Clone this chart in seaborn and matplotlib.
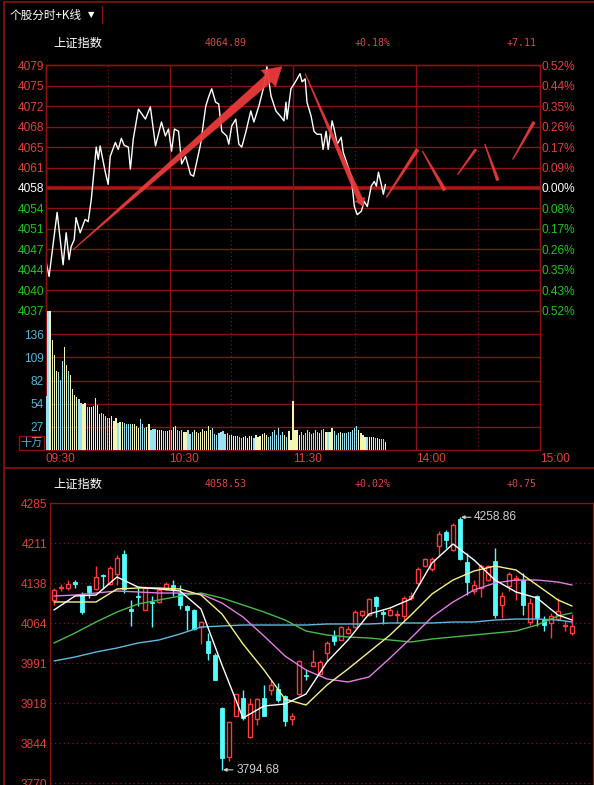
import numpy as np
import pandas as pd
import matplotlib
matplotlib.use('Agg')
import matplotlib.pyplot as plt
import seaborn as sns
from matplotlib.patches import Polygon, Rectangle
from matplotlib.lines import Line2D
from matplotlib.transforms import IdentityTransform

# ---------------- data ----------------
prev_close = 4057.78
# intraday index line (minutes after 09:30, price)
line_min = [0, 1.5, 5.4, 8.3, 9.8, 11.2, 12.2, 13.7, 14.6, 16.6, 19.0, 20.5, 22.0, 23.4, 24.4, 25.4, 26.3,
            28.8, 30.2, 31.2, 33.7, 35.1, 36.6, 38.0, 40.0, 41.0, 42.4, 44.9, 48.3, 50.7, 53.2, 56.1, 58.0,
            59.5, 61.0, 62.4, 64.4, 65.9, 67.8, 70.2, 71.7, 73.2, 75.1, 77.6, 79.0, 80.5, 82.4, 83.9, 85.4,
            87.8, 88.8, 90.2, 92.2, 93.7, 95.1, 97.1, 99.5, 101.0, 103.4, 105.9, 107.3, 109.3, 111.7, 114.1,
            115.6, 116.6, 117.1, 119.0, 120.5, 122.0, 123.4, 124.4, 125.9, 126.8, 128.8, 130.2, 131.7, 133.7,
            134.6, 136.1, 137.1, 139.0, 140.0, 141.5, 143.4, 144.4, 146.3, 148.3, 149.8, 151.2, 153.2, 154.6,
            156.1, 158.0, 159.5, 160.5, 161.5, 162.9, 163.9, 164.9]
line_price = [4045.2, 4042.6, 4053.6, 4044.6, 4050.1, 4045.5, 4047.7, 4048.9, 4052.7, 4050.1, 4052.4, 4052.0,
              4055.8, 4061.0, 4064.8, 4062.7, 4065.0, 4060.5, 4058.4, 4063.2, 4065.6, 4064.4, 4066.3, 4065.1,
              4064.8, 4061.0, 4066.2, 4071.3, 4069.6, 4071.7, 4065.0, 4069.1, 4066.7, 4067.9, 4064.1, 4067.9,
              4067.5, 4061.9, 4063.2, 4060.1, 4059.8, 4062.2, 4065.3, 4071.8, 4073.4, 4074.8, 4072.5, 4072.2,
              4067.5, 4066.7, 4065.3, 4068.4, 4069.6, 4065.3, 4064.8, 4067.4, 4071.0, 4069.1, 4071.8, 4075.3,
              4078.6, 4073.6, 4071.0, 4070.0, 4069.3, 4072.5, 4069.6, 4074.8, 4075.6, 4076.5, 4077.4, 4076.0,
              4076.5, 4072.5, 4070.1, 4067.5, 4067.0, 4067.0, 4064.4, 4067.5, 4064.4, 4069.3, 4067.9, 4065.3,
              4066.5, 4063.9, 4061.9, 4059.8, 4054.6, 4053.2, 4053.8, 4055.5, 4054.6, 4058.1, 4058.9, 4058.1,
              4060.5, 4058.4, 4056.7, 4058.4]
# per-minute volume (十万)
volume = [63, 163, 163, 129, 111, 93, 91, 82, 105, 121, 100, 93, 88, 72, 64, 62, 60, 55, 54, 55, 50, 51, 50, 52,
          61, 53, 42, 43, 42, 40, 37, 38, 40, 34, 38, 32, 33, 33, 32, 31, 31, 30, 30, 31, 28, 26, 36, 31, 26, 27,
          30, 24, 25, 25, 24, 23, 23, 22, 22, 22, 23, 23, 27, 28, 23, 22, 23, 21, 21, 23, 19, 21, 23, 21, 20, 21,
          25, 22, 22, 28, 23, 26, 19, 18, 20, 21, 22, 19, 20, 18, 18, 17, 16, 17, 15, 14, 15, 16, 14, 17, 16, 14,
          18, 15, 17, 19, 20, 18, 15, 16, 21, 24, 18, 26, 18, 21, 18, 15, 22, 12, 57, 24, 23,
          18, 21, 18, 20, 24, 21, 19, 20, 23, 21, 20, 23, 25, 21, 21, 21, 26, 22, 18, 20, 21, 20, 20, 20, 21, 21,
          23, 26, 28, 24, 20, 18, 15, 15, 15, 15, 15, 14, 14, 13, 13, 13, 9]
time_ticks = [0, 60, 120, 180, 240]
time_labels = ['09:30', '10:30', '11:30', '14:00', '15:00']
price_labels = ['4037', '4040', '4044', '4047', '4051', '4054', '4058', '4061', '4065', '4068', '4072', '4075', '4079']
pct_labels = ['0.52%', '0.43%', '0.35%', '0.26%', '0.17%', '0.08%', '0.00%', '0.09%', '0.17%', '0.26%', '0.35%', '0.44%', '0.52%']
vol_ticks = [27.2, 54.4, 81.6, 108.8, 136.0]
vol_labels = ['27', '54', '82', '109', '136']

# daily K-line
k_open = [4106.2, 4128.2, 4128.2, 4139.2, 4118.4, 4131.9, 4127.0, 4152.7, 4136.8, 4155.2, 4191.9, 4090.2, 4114.7,
          4089.0, 4103.7, 4102.5, 4127.0, 4134.3, 4119.6, 4095.1, 4089.0, 4057.2, 4030.8, 4006.3, 3907.7, 3818.3,
          3894.2, 3926.7, 3855.0, 3888.1, 3926.7, 3942.0, 3943.2, 3929.8, 3888.1, 3934.7, 3969.6, 3986.1, 3971.4,
          4009.4, 4040.0, 4032.7, 4046.1, 4057.2, 4079.8, 4079.2, 4112.3, 4084.1, 4079.2, 4079.2, 4076.8, 4110.4,
          4138.0, 4169.9, 4163.7, 4206.6, 4232.3, 4198.0, 4255.0, 4176.0, 4122.7, 4128.8, 4144.1, 4177.8, 4098.2,
          4131.9, 4142.9, 4144.1, 4065.7, 4113.5, 4069.4, 4064.5, 4071.9, 4058.4, 4046.1]
k_high = [4128.8, 4136.8, 4144.1, 4144.1, 4122.1, 4134.9, 4168.6, 4155.2, 4168.6, 4190.1, 4199.3, 4107.4, 4128.8,
          4131.9, 4113.5, 4128.8, 4139.2, 4144.1, 4134.9, 4098.2, 4090.2, 4067.6, 4046.1, 4009.4, 3910.2, 3883.8,
          3934.7, 3940.8, 3926.7, 3926.7, 3951.2, 3959.2, 3954.3, 3932.8, 3899.1, 3997.1, 3980.6, 4014.3, 3997.1,
          4030.8, 4052.3, 4058.4, 4058.4, 4089.0, 4089.0, 4110.4, 4114.7, 4089.0, 4091.5, 4087.8, 4113.5, 4122.1,
          4166.8, 4183.9, 4185.8, 4232.9, 4234.8, 4248.3, 4258.86, 4193.1, 4144.1, 4173.5, 4171.7, 4202.3, 4120.9,
          4157.6, 4153.3, 4156.4, 4110.4, 4116.6, 4076.8, 4082.9, 4110.4, 4067.6, 4081.7]
k_low = [4098.2, 4122.7, 4125.8, 4128.2, 4081.7, 4110.4, 4125.8, 4128.8, 4134.9, 4134.9, 4119.6, 4058.4, 4095.1,
         4087.8, 4057.2, 4101.3, 4125.8, 4113.5, 4090.2, 4051.0, 4052.3, 4026.5, 3997.1, 3959.2, 3794.68, 3810.3,
         3893.0, 3886.9, 3853.2, 3877.7, 3893.0, 3932.8, 3920.0, 3874.6, 3877.7, 3932.8, 3960.4, 3984.9, 3969.6,
         3994.1, 4024.7, 4032.7, 4044.9, 4055.3, 4075.5, 4076.8, 4075.5, 4063.3, 4078.0, 4064.5, 4067.6, 4106.2,
         4134.9, 4167.4, 4159.4, 4188.2, 4202.3, 4196.2, 4180.9, 4116.6, 4118.4, 4112.3, 4141.1, 4073.7, 4073.7,
         4122.7, 4107.4, 4079.8, 4061.4, 4058.4, 4049.2, 4037.0, 4067.6, 4049.2, 4043.1]
k_close = [4124.5, 4130.6, 4135.5, 4136.8, 4084.1, 4122.1, 4149.0, 4150.3, 4165.6, 4183.9, 4127.0, 4086.5, 4112.3,
           4128.8, 4101.3, 4125.8, 4136.8, 4125.8, 4098.2, 4087.8, 4053.5, 4065.7, 4009.4, 3960.4, 3815.8, 3882.6,
           3933.4, 3890.5, 3916.3, 3924.9, 3894.2, 3951.2, 3922.4, 3883.8, 3893.0, 3994.1, 3966.5, 3992.2, 3992.2,
           4027.8, 4030.8, 4057.2, 4053.5, 4084.1, 4085.9, 4108.6, 4096.4, 4081.7, 4089.0, 4081.7, 4110.4, 4114.7,
           4163.7, 4182.1, 4182.1, 4228.7, 4217.6, 4245.2, 4182.1, 4139.2, 4134.9, 4169.9, 4168.6, 4079.8, 4114.7,
           4155.2, 4147.2, 4098.2, 4101.3, 4073.7, 4061.4, 4076.8, 4085.9, 4061.4, 4058.5]
ma_idx = [0, 3, 6, 9, 12, 15, 18, 21, 24, 27, 30, 33, 36, 39, 42, 45, 48, 51, 54, 57, 60, 63, 66, 69, 72, 74]
ma5 = [4088.4, 4114.1, 4115.9, 4149.0, 4130.6, 4127.0, 4123.3, 4090.2, 3987.3, 3889.9, 3912.0, 3915.7, 3934.0,
       3992.8, 4033.3, 4081.0, 4092.1, 4108.6, 4174.7, 4209.7, 4180.3, 4143.5, 4121.5, 4110.4, 4079.2, 4070.0]
ma10 = [4103.1, 4103.1, 4103.1, 4127.0, 4128.8, 4128.8, 4127.0, 4115.9, 4081.0, 4025.9, 3978.1, 3924.8, 3913.8,
        3950.6, 3980.0, 4011.2, 4042.4, 4079.2, 4117.8, 4143.5, 4160.0, 4169.2, 4161.9, 4134.3, 4106.8, 4095.7]
ma20 = [4114.1, 4115.9, 4119.6, 4123.3, 4121.5, 4119.6, 4119.6, 4117.8, 4101.2, 4075.5, 4040.6, 4003.9, 3978.1,
        3961.6, 3956.1, 3965.3, 4000.2, 4036.9, 4075.5, 4103.1, 4125.1, 4138.0, 4143.5, 4143.5, 4139.8, 4134.3]
ma30 = [4027.7, 4046.1, 4066.3, 4084.7, 4099.4, 4106.8, 4114.1, 4119.6, 4110.4, 4097.6, 4084.7, 4070.0, 4049.8,
        4042.4, 4038.8, 4036.9, 4033.3, 4029.6, 4035.1, 4038.8, 4042.4, 4046.1, 4049.8, 4060.8, 4077.4, 4082.9]
ma60 = [3994.7, 4002.0, 4011.2, 4018.6, 4027.7, 4033.3, 4044.3, 4057.1, 4059.0, 4060.8, 4060.8, 4060.8, 4060.8,
        4062.7, 4062.7, 4062.7, 4064.5, 4064.5, 4064.5, 4066.3, 4066.3, 4070.0, 4071.8, 4071.8, 4070.0, 4066.3]
k_ticks = [4285, 4211.5, 4138, 4064.5, 3991, 3917.5, 3844, 3770.5]
k_labels = ['4285', '4211', '4138', '4064', '3991', '3918', '3844', '3770']

# hand-drawn annotations on intraday chart (minute, price)
arrows = [(13.2, 4047.2, 114.6, 4078.6, 0.5, 9.0, 18, 22),
          (125.9, 4077.4, 154.1, 4054.6, 0.5, 5.5, 8, 10)]
strokes = [(165.4, 4056.2, 180.5, 4064.4, 1.0, 3.5),
           (182.9, 4064.1, 193.7, 4057.4, 0.8, 3.5),
           (200.0, 4060.1, 208.8, 4064.4, 0.8, 2.5),
           (213.2, 4065.3, 219.5, 4059.1, 0.8, 3.0),
           (226.8, 4062.7, 237.1, 4069.1, 0.8, 3.0)]

# ---------------- style ----------------
sns.set_theme(style='white')
plt.rcParams['font.family'] = ['Liberation Sans', 'Noto Sans CJK SC', 'DejaVu Sans']
CJK = ['Noto Sans CJK SC', 'DejaVu Sans']
GRID = '#8c1212'
RED_T = '#e2403c'
GREEN_T = '#22c522'
HDR = '#d84848'
CYAN = '#54fcfc'
KRED = '#ff3c3c'
VOLC = '#5ab4d4'
ARROW = '#ea3b3b'

W, H = 594, 785
fig = plt.figure(figsize=(W / 100, H / 100), dpi=100, facecolor='black')


def rect(x0, y0, x1, y1):
    return [x0 / W, 1 - y1 / H, (x1 - x0) / W, (y1 - y0) / H]


def ftext(x, y, s, **kw):
    fig.text(x / W, 1 - y / H, s, **kw)


def fline(x0, y0, x1, y1, **kw):
    fig.add_artist(Line2D([x0 / W, x1 / W], [1 - y0 / H, 1 - y1 / H], transform=fig.transFigure, **kw))


# frame lines
fline(4, 2, 594, 2, color=GRID, lw=1.2)
fline(4, 2, 4, 785, color=GRID, lw=1.2)
fline(102, 6, 102, 23, color=GRID, lw=1.0)
fline(4, 468, 594, 468, color=GRID, lw=1.2)
ftext(10, 15, '个股分时+K线', color='white', fontsize=8.4, family=CJK, va='center')
ftext(88, 15, '▼', color='white', fontsize=6, family=['DejaVu Sans'], va='center')

# headers
for yy, vals in [(43, ['4064.89', '+0.18%', '+7.11']), (484, ['4058.53', '+0.02%', '+0.75'])]:
    ftext(53, yy, '上证指数', color='white', fontsize=8.8, family=CJK, va='center')
    for xx, s in zip([205, 355, 507], vals):
        ftext(xx, yy, s, color=HDR, fontsize=7.2, family=['DejaVu Sans Mono'], va='center')

# ---------------- intraday price ----------------
axp = fig.add_axes(rect(46, 65, 540, 311))
axp.set_facecolor('black')
lo, hi = prev_close * (1 - 0.0052), prev_close * (1 + 0.0052)
axp.set_xlim(0, 240)
axp.set_ylim(lo - 1e-6, hi + 1e-6)
levels = prev_close * (1 + np.arange(-6, 7) * 0.0052 / 6)
for k, lv in zip(range(-6, 7), levels):
    if k == 0:
        axp.axhline(lv, color='#a81616', lw=2.6, zorder=1)
    elif abs(k) < 6:
        axp.axhline(lv, color=GRID, lw=1.0, zorder=1)
for ax_ in []:
    pass


def vgrid(ax):
    for m in [60, 120, 180]:
        ax.axvline(m, color=GRID, lw=1.0, zorder=1)
    for m in [30, 90, 150, 210]:
        ax.axvline(m, color=GRID, lw=0.8, ls=(0, (1, 2.5)), zorder=1)


vgrid(axp)
df_line = pd.DataFrame({'m': line_min, 'p': line_price})
sns.lineplot(data=df_line, x='m', y='p', ax=axp, color='white', lw=1.0, sort=False, estimator=None, zorder=3)
axp.set_xlabel('')
axp.set_ylabel('')
axp.set_xticks([])
label_cols = [GREEN_T] * 6 + ['white'] + [RED_T] * 6
axp.set_yticks(levels)
axp.set_yticklabels(price_labels, fontsize=8.6)
for t, c in zip(axp.get_yticklabels(), label_cols):
    t.set_color(c)
axp.tick_params(axis='y', length=0, pad=1.5)
axr = axp.twinx()
axr.set_ylim(axp.get_ylim())
axr.set_yticks(levels)
axr.set_yticklabels(pct_labels, fontsize=8.6)
for t, c in zip(axr.get_yticklabels(), label_cols):
    t.set_color(c)
axr.tick_params(axis='y', length=0, pad=1.0)
for a in (axp, axr):
    for s in a.spines.values():
        s.set_color(GRID)
        s.set_linewidth(1.0)
    a.spines['bottom'].set_visible(False)
    a.grid(False)


def taper(ax, m0, p0, m1, p1, w0, w1, hl=0, hw=0, color=ARROW):
    T = ax.transData
    a = np.array(T.transform((m0, p0)))
    b = np.array(T.transform((m1, p1)))
    d = b - a
    u = d / np.hypot(*d)
    n = np.array([-u[1], u[0]])
    b2 = b - u * hl
    pts = [a + n * w0 / 2, b2 + n * w1 / 2]
    if hl > 0:
        pts += [b2 + n * hw / 2, b, b2 - n * hw / 2]
    pts += [b2 - n * w1 / 2, a - n * w0 / 2]
    ax.add_patch(Polygon(pts, closed=True, transform=IdentityTransform(), facecolor=color,
                         edgecolor=color, lw=0.3, zorder=6, alpha=0.95))


for m0, p0, m1, p1, w0, w1, hl, hw in arrows:
    taper(axp, m0, p0, m1, p1, w0, w1, hl, hw)
for m0, p0, m1, p1, w0, w1 in strokes:
    taper(axp, m0, p0, m1, p1, w0, w1)

# ---------------- intraday volume ----------------
axv = fig.add_axes(rect(46, 311, 540, 450))
axv.set_facecolor('black')
axv.set_xlim(0, 240)
axv.set_ylim(0, 163.2)
for v in vol_ticks:
    axv.axhline(v, color=GRID, lw=1.0, zorder=1)
vgrid(axv)
vi = np.arange(len(volume))
pm = np.interp(vi, line_min, line_price)
prev = np.concatenate([[prev_close], pm[:-1]])
vcols = ['#f4f4b4' if a >= b else '#9ae2f2' for a, b in zip(pm, prev)]
axv.bar(vi, volume, width=0.6, color=vcols, lw=0, zorder=3)
axv.set_yticks(vol_ticks)
axv.set_yticklabels(vol_labels, fontsize=8.6, color=VOLC)
axv.tick_params(axis='y', length=0, pad=1.5)
axv.set_xticks(time_ticks)
axv.set_xticklabels(time_labels, fontsize=8.6, color=RED_T, ha='left')
axv.tick_params(axis='x', length=0, pad=2.5)
for s in axv.spines.values():
    s.set_color(GRID)
    s.set_linewidth(1.0)
axv.grid(False)
fig.add_artist(Rectangle((19 / W, 1 - 450 / H), 25 / W, 14 / H, transform=fig.transFigure,
                         facecolor='none', edgecolor=GRID, lw=1.0))
ftext(31.5, 443, '十万', color=VOLC, fontsize=8.0, family=CJK, ha='center', va='center')

# ---------------- daily K-line ----------------
axk = fig.add_axes(rect(50, 503, 593, 785))
axk.set_facecolor('black')
axk.set_xlim(-4 / 7, 77)
axk.set_ylim(4285 - 282 * 1.8375, 4285)
for t in k_ticks[1:]:
    axk.axhline(t, color=GRID, lw=0.9, ls=(0, (1, 2.5)), zorder=1)
idx = np.arange(len(k_open))
o = np.array(k_open); c = np.array(k_close); hgh = np.array(k_high); low = np.array(k_low)
up = c >= o
cols = np.where(up, KRED, CYAN)
axk.vlines(idx[up], np.maximum(o, c)[up], hgh[up], color=KRED, lw=1.0, zorder=3)
axk.vlines(idx[up], low[up], np.minimum(o, c)[up], color=KRED, lw=1.0, zorder=3)
axk.vlines(idx[~up], low[~up], hgh[~up], color=CYAN, lw=1.0, zorder=3)
bh = np.maximum(np.abs(c - o), 1.0)
axk.bar(idx[up], bh[up], bottom=np.minimum(o, c)[up], width=0.68, facecolor='black',
        edgecolor=KRED, lw=1.0, zorder=4)
axk.bar(idx[~up], bh[~up], bottom=np.minimum(o, c)[~up], width=0.68, facecolor=CYAN,
        edgecolor=CYAN, lw=0.6, zorder=4)
for vals, col in [(ma60, '#62b8e0'), (ma30, '#4cb84c'), (ma20, '#e27ee2'), (ma10, '#f2f28c'), (ma5, '#ffffff')]:
    sns.lineplot(x=ma_idx, y=vals, ax=axk, color=col, lw=1.0, sort=False, estimator=None, zorder=5)
axk.set_xlabel('')
axk.set_ylabel('')
axk.set_xticks([])
axk.set_yticks(k_ticks)
axk.set_yticklabels(k_labels, fontsize=8.6, color=RED_T)
axk.tick_params(axis='y', length=0, pad=2)
for s in axk.spines.values():
    s.set_color(GRID)
    s.set_linewidth(1.0)
axk.spines['bottom'].set_visible(False)
axk.grid(False)
hi_i = int(np.argmax(hgh)); lo_i = int(np.argmin(low))
axk.annotate(f'{hgh[hi_i]:.2f}', xy=(hi_i + 0.15, hgh[hi_i]), xytext=(9.5, 0), textcoords='offset points',
             color='#cfcfcf', fontsize=8.6, va='center', ha='left',
             arrowprops=dict(arrowstyle='-|>', color='#cfcfcf', lw=0.8, mutation_scale=5, shrinkA=0, shrinkB=0))
axk.annotate(f'{low[lo_i]:.2f}', xy=(lo_i + 0.15, low[lo_i]), xytext=(9.5, 0), textcoords='offset points',
             color='#cfcfcf', fontsize=8.6, va='center', ha='left',
             arrowprops=dict(arrowstyle='-|>', color='#cfcfcf', lw=0.8, mutation_scale=5, shrinkA=0, shrinkB=0))

fig.savefig('out.png', dpi=100, facecolor='black')
